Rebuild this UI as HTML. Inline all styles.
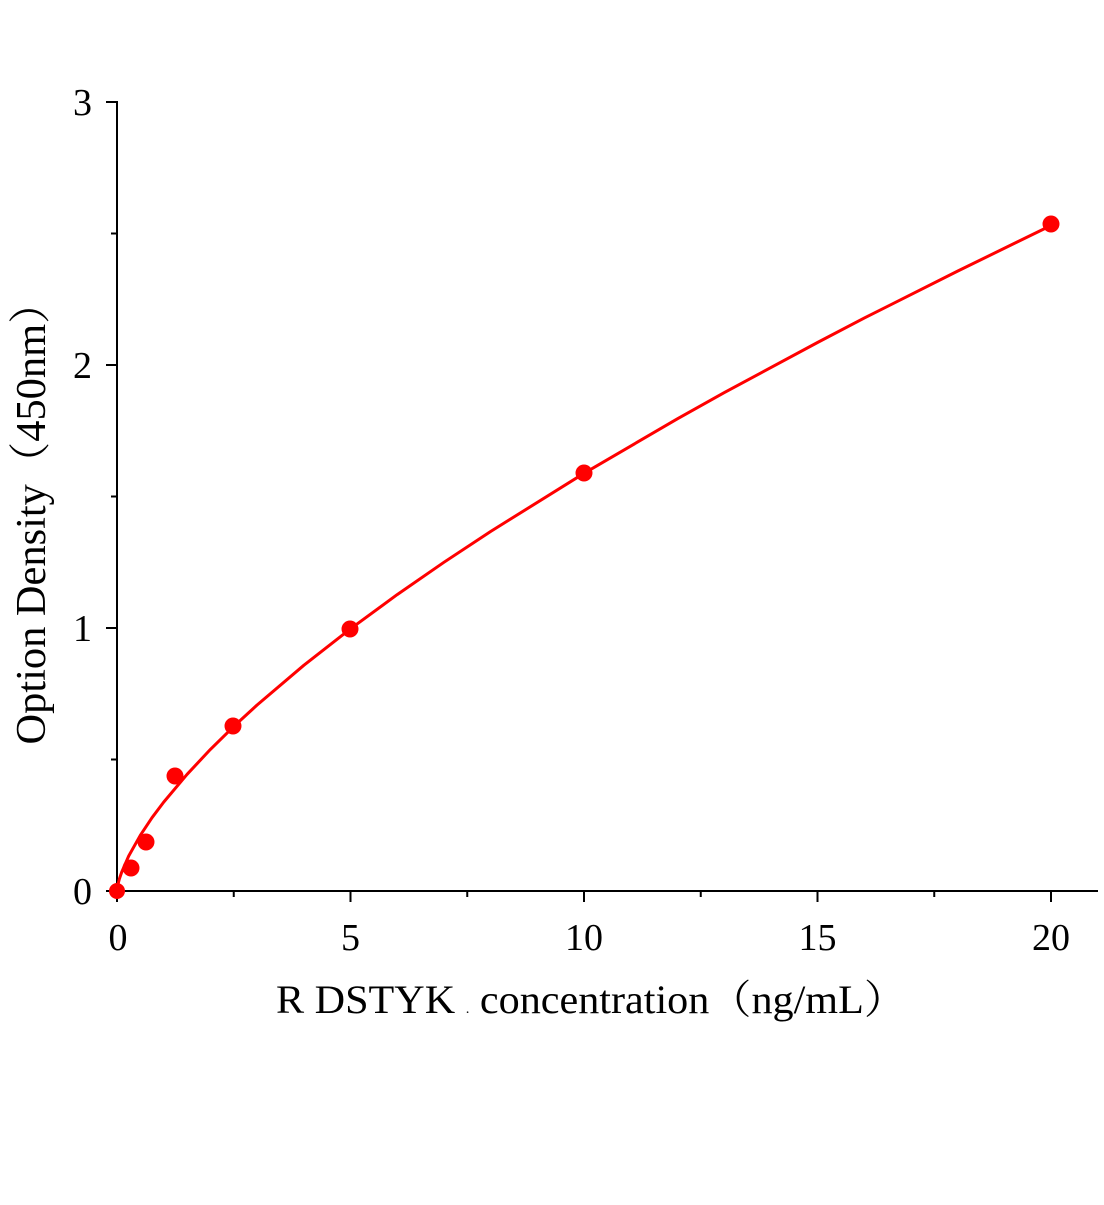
<!DOCTYPE html>
<html><head><style>body{margin:0;background:#fff}</style></head><body>
<svg width="1104" height="1200" viewBox="0 0 1104 1200" xmlns="http://www.w3.org/2000/svg" font-family="Liberation Serif, 'Noto Serif CJK SC', serif">
<rect width="1104" height="1200" fill="#fff"/>
<g stroke="#000" stroke-width="2" fill="none">
<line x1="117" y1="101" x2="117" y2="892"/>
<line x1="116" y1="891" x2="1098" y2="891"/>
<line x1="106" y1="102" x2="117" y2="102"/>
<line x1="106" y1="365" x2="117" y2="365"/>
<line x1="106" y1="628" x2="117" y2="628"/>
<line x1="106" y1="891" x2="117" y2="891"/>
<line x1="111" y1="233.5" x2="117" y2="233.5"/>
<line x1="111" y1="496.5" x2="117" y2="496.5"/>
<line x1="111" y1="759.5" x2="117" y2="759.5"/>
<line x1="117" y1="891" x2="117" y2="902"/>
<line x1="350.5" y1="891" x2="350.5" y2="902"/>
<line x1="584" y1="891" x2="584" y2="902"/>
<line x1="817.5" y1="891" x2="817.5" y2="902"/>
<line x1="1051" y1="891" x2="1051" y2="902"/>
<line x1="233.75" y1="891" x2="233.75" y2="897"/>
<line x1="467.25" y1="891" x2="467.25" y2="897"/>
<line x1="700.75" y1="891" x2="700.75" y2="897"/>
<line x1="934.25" y1="891" x2="934.25" y2="897"/>
</g>
<g font-size="38" fill="#000" text-anchor="end">
<text x="92" y="115">3</text><text x="92" y="378">2</text><text x="92" y="641">1</text><text x="92" y="904">0</text>
</g>
<g font-size="38" fill="#000" text-anchor="middle">
<text x="118" y="950">0</text><text x="350.5" y="950">5</text><text x="584" y="950">10</text><text x="817.5" y="950">15</text><text x="1051" y="950">20</text>
</g>
<text x="276" y="1013" font-size="40" fill="#000" textLength="630" lengthAdjust="spacingAndGlyphs">R DSTYK <tspan font-size="14">.</tspan> concentration（ng/mL）</text>
<text transform="translate(45,513) rotate(-90)" font-size="42" fill="#000" text-anchor="middle" textLength="463" lengthAdjust="spacingAndGlyphs">Option Density（450nm）</text>
<polyline fill="none" stroke="#f00" stroke-width="3" stroke-linejoin="round" points="117,891 117.5,887 117.9,884.6 119.3,879.1 121.7,872.1 128.7,856 140.4,835.2 152,817.7 163.7,802.1 187.1,774.3 210.4,749.4 233.8,726.4 257.1,705 303.8,665.3 350.5,628.8 397.2,594.6 443.9,562.3 490.6,531.5 584,473.3 677.4,418.8 724.1,392.7 817.5,342.5 864.2,318.1 957.6,271.1 1051,225.5"/>
<g fill="#f00">
<circle cx="117" cy="891" r="8"/>
<circle cx="131" cy="868" r="8.5"/>
<circle cx="146" cy="842" r="8.5"/>
<circle cx="175" cy="776" r="8.5"/>
<circle cx="233" cy="726" r="8.5"/>
<circle cx="350" cy="629" r="8.5"/>
<circle cx="584" cy="473" r="8.5"/>
<circle cx="1051" cy="224" r="8.5"/>
</g>
</svg>
</body></html>
